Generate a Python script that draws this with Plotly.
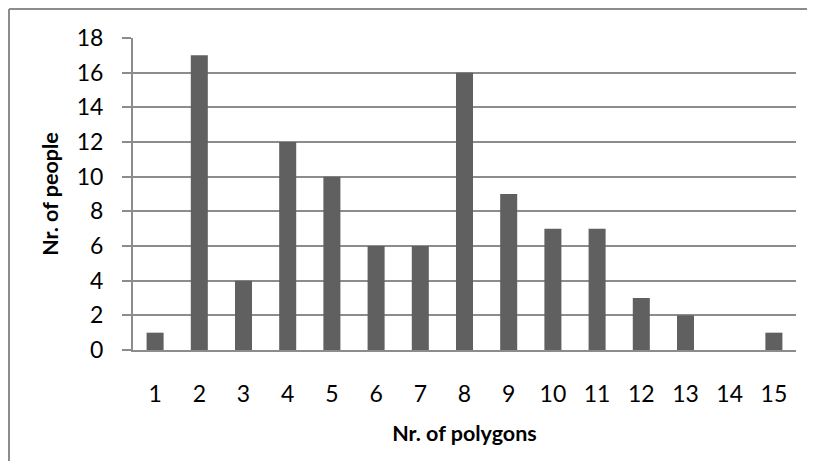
import plotly.graph_objects as go

categories = [str(i) for i in range(1, 16)]
people = [1, 17, 4, 12, 10, 6, 6, 16, 9, 7, 7, 3, 2, 0, 1]
y_ticks = list(range(0, 19, 2))

OFF = 8  # default body margin of the html page
W, H = 815 - 2 * OFF, 469 - 2 * OFF
L, T = 133 - OFF, 38 - OFF
R = OFF + W - 796
B = OFF + H - 350
pw, ph = W - L - R, H - T - B

fig = go.Figure(go.Bar(x=categories, y=people, marker=dict(color="#606060", line=dict(width=0))))

def fig2paper_x(px):
    return (px - L) / pw

def fig2paper_y(py):
    return 1 - (py - T) / ph

border = dict(color="#8c8c8c", width=2)
# top and left edges of the chart frame (right and bottom edges lie outside the picture)
fig.add_shape(type="line", xref="paper", yref="paper",
              x0=fig2paper_x(1), x1=fig2paper_x(W), y0=fig2paper_y(1), y1=fig2paper_y(1),
              line=border, layer="below")
fig.add_shape(type="line", xref="paper", yref="paper",
              x0=fig2paper_x(1), x1=fig2paper_x(1), y0=fig2paper_y(1), y1=fig2paper_y(H),
              line=border, layer="below")

fig.update_layout(
    width=W, height=H,
    margin=dict(l=L, r=R, t=T, b=B),
    paper_bgcolor="white", plot_bgcolor="white",
    bargap=0.615,
    showlegend=False,
    font=dict(family="Lato", color="black", size=23),
    xaxis=dict(type="category", range=[-0.5, 14.5], showgrid=False,
               showline=True, linecolor="#8c8c8c", linewidth=2,
               ticks="", ticklabelstandoff=22,
               tickfont=dict(size=23),
               title=dict(text="<b>Nr. of polygons</b>", font=dict(size=21.5), standoff=20)),
    yaxis=dict(range=[0, 18], tickvals=y_ticks, showgrid=True, gridcolor="#8c8c8c", gridwidth=1.7,
               showline=True, linecolor="#8c8c8c", linewidth=2, zeroline=False,
               ticks="outside", ticklen=9, tickcolor="#8c8c8c", tickwidth=1.7,
               ticklabelstandoff=14, tickfont=dict(size=23),
               title=dict(text="<b>Nr. of people</b>", font=dict(size=21.5), standoff=12)),
)

fig.write_html("out.html", config={"displayModeBar": False})
